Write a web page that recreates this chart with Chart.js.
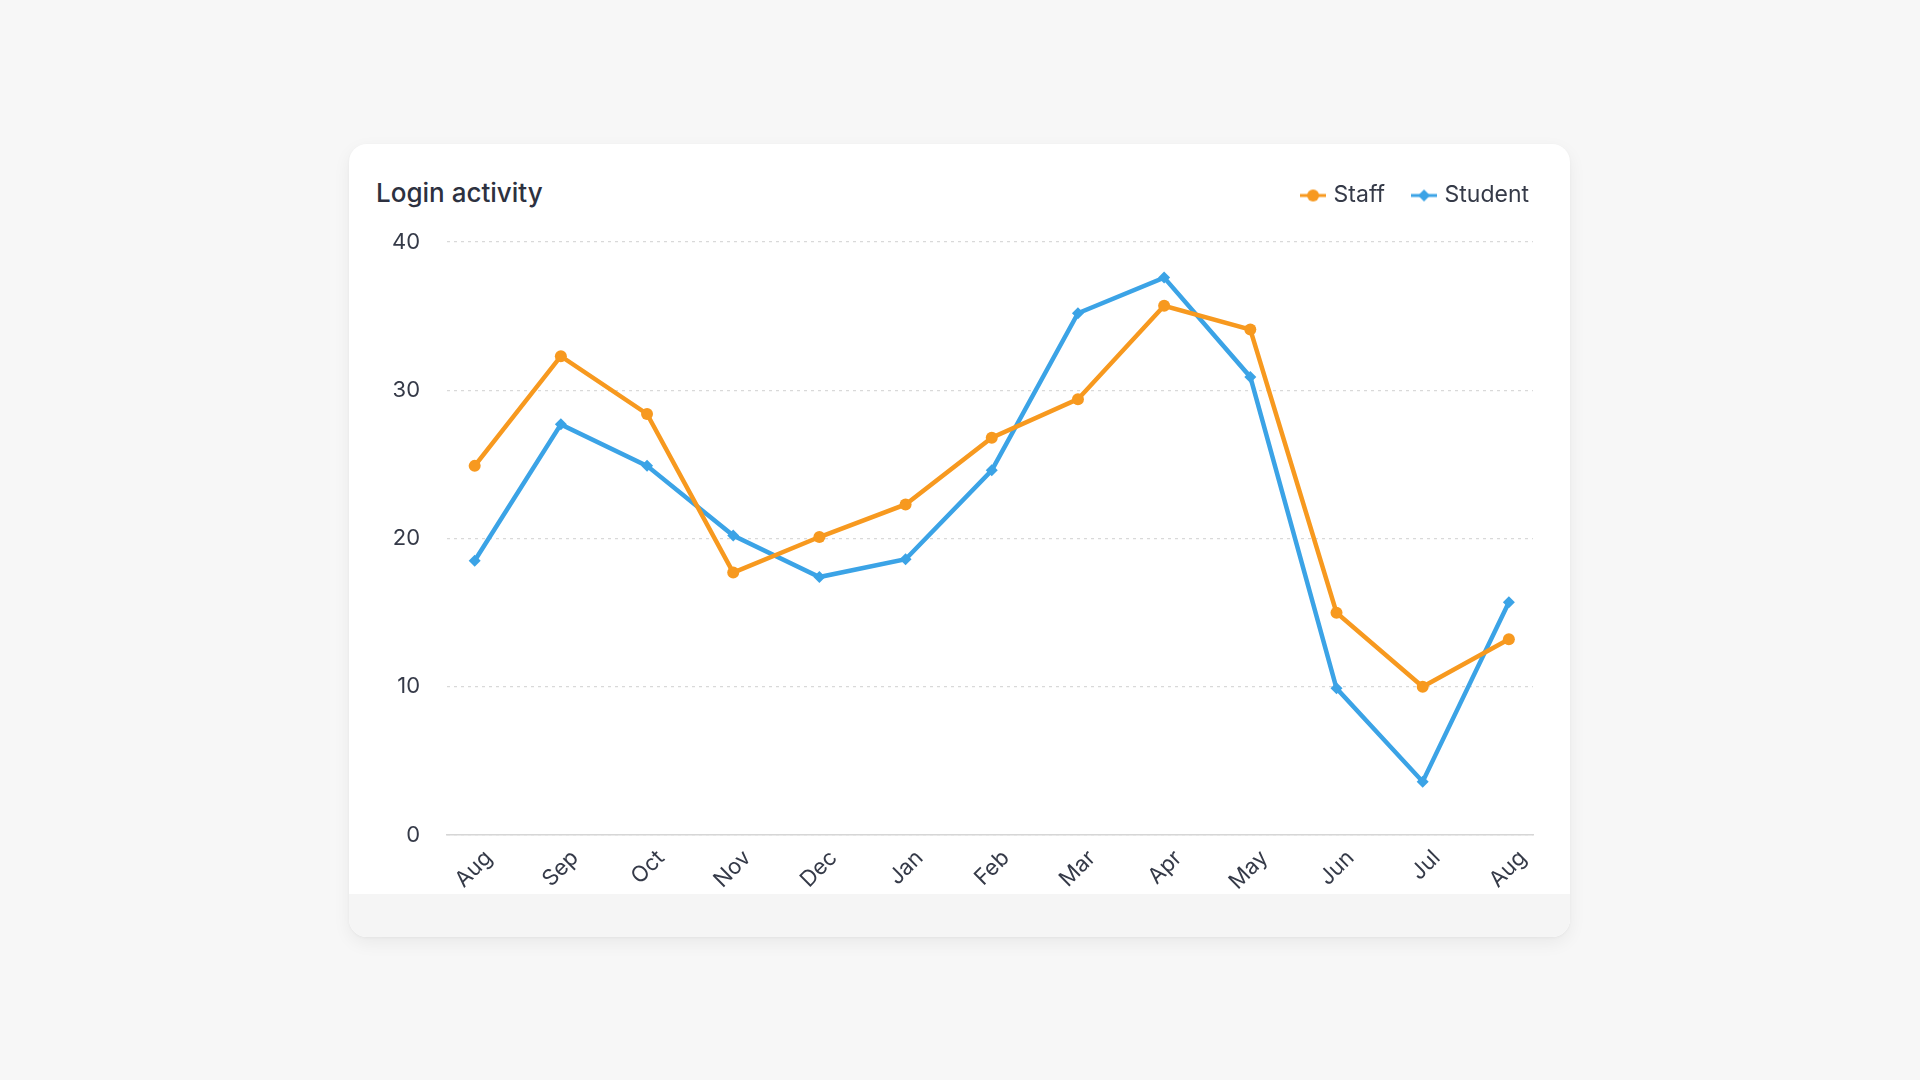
<!DOCTYPE html>
<html>
<head>
<meta charset="utf-8">
<script src="https://cdn.jsdelivr.net/npm/chart.js@4.4.1/dist/chart.umd.min.js"></script>
<style>
  html, body { margin: 0; padding: 0; width: 1920px; height: 1080px; background: #f7f7f7; font-family: Inter, sans-serif; }
  .card {
    position: absolute; left: 349px; top: 144px; width: 1221px; height: 793px;
    background: #fff; border-radius: 18px; overflow: hidden;
    box-shadow: 0 6px 18px rgba(0,0,0,0.06), 0 1px 3px rgba(0,0,0,0.04);
  }
  .title {
    position: absolute; left: 27px; top: 34px; line-height: 30px;
    font-size: 26px; font-weight: 500; color: #2d3140;
  }
  .wrap { position: absolute; left: 0; top: 10px; width: 1210px; height: 743px; }
  .footer { position: absolute; left: 0; right: 0; bottom: 0; height: 43px; background: #f5f5f5; }
</style>
</head>
<body>
<div class="card">
  <div class="title">Login activity</div>
  <div class="wrap"><canvas id="loginChart"></canvas></div>
  <div class="footer"></div>
</div>
<script>
const months = ['Aug', 'Sep', 'Oct', 'Nov', 'Dec', 'Jan', 'Feb', 'Mar', 'Apr', 'May', 'Jun', 'Jul', 'Aug'];
const staffLogins = [24.9, 32.3, 28.4, 17.7, 20.1, 22.3, 26.8, 29.4, 35.7, 34.1, 15.0, 10.0, 13.2];
const studentLogins = [18.5, 27.7, 24.9, 20.2, 17.4, 18.6, 24.6, 35.2, 37.6, 30.9, 9.9, 3.6, 15.7];
const yTicks = [0, 10, 20, 30, 40];

const orange = '#f7991f';
const blue = '#3ba3e6';
const textColor = '#353a48';

// little "line + marker" icons for the legend
function legendIcon(color, style) {
    const c = document.createElement('canvas');
    c.width = 26;
    c.height = 14;
    const g = c.getContext('2d');
    g.strokeStyle = color;
    g.lineWidth = 3;
    g.beginPath();
    g.moveTo(0, 7);
    g.lineTo(26, 7);
    g.stroke();
    g.fillStyle = color;
    g.beginPath();
    if (style === 'circle') {
        g.arc(13, 7, 6, 0, Math.PI * 2);
    } else {
        g.moveTo(13, 1); g.lineTo(19, 7); g.lineTo(13, 13); g.lineTo(7, 7);
        g.closePath();
    }
    g.fill();
    return c;
}
const icons = [legendIcon(orange, 'circle'), legendIcon(blue, 'diamond')];

const toPoints = arr => arr.map((v, i) => ({ x: i, y: v }));

// more room between the legend row and the plot
const legendGap = {
    id: 'legendGap',
    beforeInit(chart) {
        const fit = chart.legend.fit;
        chart.legend.fit = function () {
            fit.bind(chart.legend)();
            this.height += 25;
        };
    }
};

const ctx = document.getElementById('loginChart');

let chart = new Chart(ctx, {
    type: 'line',
    data: {
        datasets: [{
            label: 'Staff',
            data: toPoints(staffLogins),
            borderColor: orange,
            backgroundColor: orange,
            borderWidth: 4.5,
            pointStyle: 'circle',
            pointRadius: 6,
            pointBorderWidth: 0,
            tension: 0,
        }, {
            label: 'Student',
            data: toPoints(studentLogins),
            borderColor: blue,
            backgroundColor: blue,
            borderWidth: 4.5,
            pointStyle: 'rectRot',
            pointRadius: 6,
            pointBorderWidth: 0,
            tension: 0,
        }],
    },
    plugins: [legendGap],
    options: {
        responsive: true,
        maintainAspectRatio: false,
        animation: false,
        layout: { padding: { top: 0, right: 0, bottom: 0, left: 16 } },
        scales: {
            x: {
                type: 'linear',
                min: -0.32,
                max: 12.28,
                grid: { display: false },
                border: { display: true, color: '#d6d6d6', width: 1.5 },
                afterFit: scale => { scale.paddingRight = 26; },
                ticks: {
                    stepSize: 1,
                    includeBounds: false,
                    autoSkip: false,
                    minRotation: 45,
                    maxRotation: 45,
                    labelOffset: 14,
                    padding: 2,
                    color: textColor,
                    font: { family: 'Inter', size: 22 },
                    callback: v => months[v] ?? '',
                },
            },
            y: {
                min: yTicks[0],
                max: yTicks[yTicks.length - 1],
                grid: { color: '#d9d9d9', lineWidth: 1.2, drawTicks: false },
                border: { display: false, dash: [3, 4] },
                ticks: {
                    stepSize: 10,
                    padding: 27,
                    color: textColor,
                    font: { family: 'Inter', size: 22 },
                },
            },
        },
        plugins: {
            tooltip: { enabled: false },
            legend: {
                position: 'top',
                align: 'end',
                labels: {
                    usePointStyle: true,
                    pointStyleWidth: 18,
                    padding: 30,
                    color: textColor,
                    font: { family: 'Inter', size: 23 },
                    generateLabels: c => {
                        const items = Chart.defaults.plugins.legend.labels.generateLabels(c);
                        items.forEach((it, i) => { it.pointStyle = icons[i]; });
                        return items;
                    },
                },
            },
        },
    },
});
</script>
</body>
</html>
